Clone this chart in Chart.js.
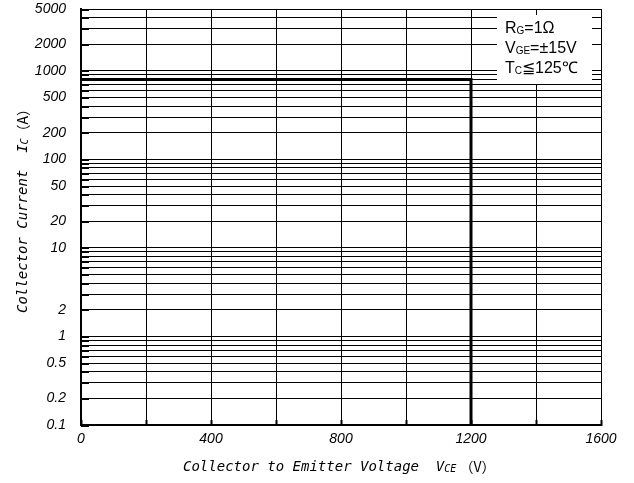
<!DOCTYPE html>
<html>
<head>
<meta charset="utf-8">
<script src="https://cdn.jsdelivr.net/npm/chart.js@4"></script>
<style>
  html, body { margin: 0; padding: 0; background: #fff; }
  #wrap { width: 634px; height: 483px; position: relative; }
</style>
</head>
<body>
<div id="wrap"><canvas id="soa" width="634" height="483"></canvas></div>
<script>
// RBSOA boundary
const vce = [0, 1200, 1200];
const ic = [800, 800, 0.1];

// axis ticks
const xGrid = [0, 200, 400, 600, 800, 1000, 1200, 1400, 1600];
const xLabels = [0, 400, 800, 1200, 1600];
const yGrid = [0.1, 0.2, 0.3, 0.4, 0.5, 0.6, 0.7, 0.8, 0.9,
               1, 2, 3, 4, 5, 6, 7, 8, 9,
               10, 20, 30, 40, 50, 60, 70, 80, 90,
               100, 200, 300, 400, 500, 600, 700, 800, 900,
               1000, 2000, 3000, 4000, 5000];
const yLabels = [0.1, 0.2, 0.5, 1, 2, 10, 20, 50, 100, 200, 500, 1000, 2000, 5000];

// legend lines: [main, subscript, rest]
const notes = [
    ['R', 'G', '=1\u03A9'],
    ['V', 'GE', '=\u00B115V'],
    ['T', 'C', '\u2266125\u2103']
];

const tickFont = { family: 'Liberation Sans, Arial, sans-serif', size: 14, style: 'italic' };
const titleFamily = '"DejaVu Sans Mono", monospace';

// draw a row of text pieces, some in subscript
function drawRuns(ctx, runs, x, y) {
    let cx = x;
    runs.forEach(r => {
        ctx.font = r.font;
        ctx.fillText(r.t, cx, y + (r.dy || 0));
        cx += ctx.measureText(r.t).width;
    });
}

const extras = {
    id: 'extras',
    afterDatasetsDraw(chart) {
        // short thick ticks on the inner side of the left axis
        const ctx = chart.ctx;
        const ys = chart.scales.y;
        const left = chart.chartArea.left;
        ctx.save();
        ctx.fillStyle = '#000';
        yGrid.forEach(v => {
            const r = Math.round(ys.getPixelForValue(v) - 0.5);
            ctx.fillRect(left, r, 8, 2);
        });
        ctx.restore();
    },
    afterDraw(chart) {
        const ctx = chart.ctx;
        ctx.save();
        ctx.fillStyle = '#000';
        ctx.textBaseline = 'middle';
        ctx.textAlign = 'left';

        const it = 'oblique 14px ' + titleFamily;
        const itSub = 'oblique 10px ' + titleFamily;
        const up = '14px "Noto Sans CJK JP", sans-serif';

        // x title
        drawRuns(ctx, [
            { t: 'Collector to Emitter Voltage  V', font: it },
            { t: 'CE', font: itSub, dy: 2 },
            { t: ' \uFF08V\uFF09', font: up }
        ], 183, 467);

        // y title
        ctx.save();
        ctx.translate(23, 313);
        ctx.rotate(-Math.PI / 2);
        drawRuns(ctx, [
            { t: 'Collector Current  I', font: it },
            { t: 'C', font: itSub, dy: 2 },
            { t: '\uFF08A\uFF09', font: up }
        ], 0, 0);
        ctx.restore();

        // conditions box
        ctx.fillStyle = '#fff';
        ctx.fillRect(497, 15, 95, 69);
        ctx.fillStyle = '#000';
        const big = '16px "Liberation Sans", Arial, sans-serif';
        const small = '10px "Liberation Sans", Arial, sans-serif';
        notes.forEach((n, i) => {
            drawRuns(ctx, [
                { t: n[0], font: big },
                { t: n[1], font: small, dy: 2 },
                { t: n[2], font: big }
            ], 505, 29 + i * 20);
        });
        ctx.restore();
    }
};

new Chart(document.getElementById('soa'), {
    type: 'scatter',
    data: {
        datasets: [{
            data: vce.map((v, i) => ({ x: v, y: ic[i] })),
            showLine: true,
            borderColor: '#000',
            borderWidth: 3,
            pointRadius: 0,
            fill: false,
            tension: 0
        }]
    },
    options: {
        responsive: false,
        animation: false,
        devicePixelRatio: 1,
        layout: { padding: { top: 9, right: 33, left: 0, bottom: 0 } },
        plugins: { legend: { display: false }, tooltip: { enabled: false } },
        scales: {
            x: {
                type: 'linear',
                min: 0,
                max: 1600,
                afterBuildTicks: s => { s.ticks = xGrid.map(v => ({ value: v })); },
                afterFit: s => { s.height = 58; },
                ticks: {
                    autoSkip: false,
                    maxRotation: 0,
                    padding: 11,
                    color: '#000',
                    font: tickFont,
                    callback: v => xLabels.includes(v) ? String(v) : ''
                },
                grid: { color: '#000', lineWidth: 1, tickLength: -5, tickWidth: 2, tickColor: '#000' },
                border: { color: '#000', width: 2 }
            },
            y: {
                type: 'logarithmic',
                min: 0.1,
                max: 5000,
                afterBuildTicks: s => { s.ticks = yGrid.map(v => ({ value: v })); },
                afterFit: s => { s.width = 81; },
                ticks: {
                    autoSkip: false,
                    padding: 0,
                    color: '#000',
                    font: tickFont,
                    callback: v => yLabels.includes(v) ? String(v) : ''
                },
                grid: { color: '#000', lineWidth: 1, tickLength: 15, tickWidth: 0, tickColor: 'rgba(0,0,0,0)' },
                border: { color: '#000', width: 2 }
            }
        }
    },
    plugins: [extras]
});
</script>
</body>
</html>
